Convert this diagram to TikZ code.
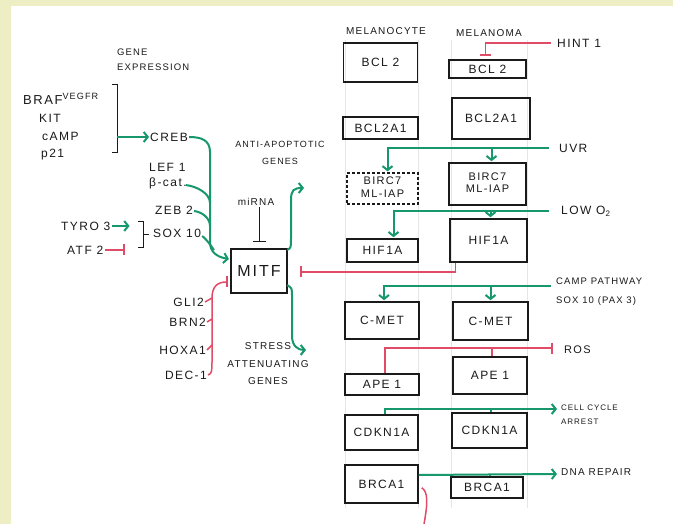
\documentclass[tikz,border=0pt]{standalone}
\usepackage{fontspec}
\setmainfont{Liberation Sans}[LetterSpace=12]
\usetikzlibrary{arrows.meta,calc}
\definecolor{bgy}{HTML}{EEEEC4}
\definecolor{grn}{HTML}{17986C}
\definecolor{rd}{HTML}{E04C68}
\definecolor{guide}{HTML}{E6E6E6}
\definecolor{ink}{HTML}{1A1A1A}
\begin{document}
\begin{tikzpicture}[x=1pt,y=-1pt,
  box/.style={draw=ink, line width=1.5pt, inner sep=0pt, font=\fontsize{12}{13}\selectfont, text=ink},
  dbox/.style={box, densely dashed, line width=1.2pt},
  lbl/.style={inner sep=1pt, font=\fontsize{12}{13}\selectfont, text=ink},
  slbl/.style={inner sep=1pt, font=\fontsize{9.5}{14}\selectfont, text=ink},
  act/.style={draw=grn, line width=2pt, -{Straight Barb[length=4pt,width=10pt,line width=2pt]}},
  gline/.style={draw=grn, line width=2pt},
  inh/.style={draw=rd, line width=1.5pt, -{Bar[width=11pt,line width=2pt]}},
  rline/.style={draw=rd, line width=1.5pt},
  bk/.style={draw=ink, line width=1pt},
  bkinh/.style={draw=ink, line width=0.9pt, -{Bar[width=13pt,line width=1.3pt]}},
]
\fill[bgy] (0,0) rectangle (673,524);
\fill[white] (11,6) rectangle (673,524);
\useasboundingbox (0,0) rectangle (673,524);

% column guides
\foreach \gx in {345,418,451,527}{\draw[guide, line width=0.5pt] (\gx,40) -- (\gx,508);}

% ---------- right columns ----------
\node[slbl, font=\fontsize{10}{11}\selectfont] (hMc) at (386,31) {MELANOCYTE};
\node[slbl, font=\fontsize{10}{11}\selectfont] (hMn) at (489,33) {MELANOMA};

\node[box, minimum width=74, minimum height=39] (mcBCL2)   at (380.5,62.5) {BCL 2};
\node[box, minimum width=75, minimum height=22] (mcBCL2A1) at (380.5,128) {BCL2A1};
\node[dbox, minimum width=71, minimum height=31, font=\fontsize{11}{12.5}\selectfont] (mcBIRC7)  at (382.5,188.5) {\begin{tabular}{@{}c@{}}BIRC7\\ML-IAP\end{tabular}};
\node[box, minimum width=71, minimum height=23] (mcHIF)    at (382.5,250.5) {HIF1A};
\node[box, minimum width=74, minimum height=37] (mcCMET)   at (382,320.5) {C-MET};
\node[box, minimum width=74, minimum height=21] (mcAPE)    at (382,384.5) {APE 1};
\node[box, minimum width=73, minimum height=35] (mcCDK)    at (381.5,432.5) {CDKN1A};
\node[box, minimum width=73, minimum height=38] (mcBRCA)   at (381.5,484) {BRCA1};

\node[box, minimum width=77, minimum height=18] (mnBCL2)   at (487.5,69) {BCL 2};
\node[box, minimum width=78, minimum height=41] (mnBCL2A1) at (491,118.5) {BCL2A1};
\node[box, minimum width=77, minimum height=42, font=\fontsize{11}{12.5}\selectfont] (mnBIRC7)  at (487.5,184) {\begin{tabular}{@{}c@{}}BIRC7\\ML-IAP\end{tabular}};
\node[box, minimum width=77, minimum height=43] (mnHIF)    at (488.5,240.5) {HIF1A};
\node[box, minimum width=75, minimum height=38] (mnCMET)   at (490.5,321) {C-MET};
\node[box, minimum width=74, minimum height=37] (mnAPE)    at (490,375.5) {APE 1};
\node[box, minimum width=75, minimum height=35] (mnCDK)    at (489.5,430.5) {CDKN1A};
\node[box, minimum width=72, minimum height=21] (mnBRCA)   at (487,487.5) {BRCA1};

% right labels
\node[lbl, anchor=west] (hint) at (556,43) {HINT 1};
\node[lbl, anchor=west] (uvr) at (558,148) {UVR};
\node[lbl, anchor=west] (lowo) at (560,211) {LOW O\textsubscript{2}};
\node[slbl, anchor=west, align=left, font=\fontsize{9.5}{19}\selectfont] (camppw) at (555,292) {CAMP PATHWAY\\SOX 10 (PAX 3)};
\node[lbl, anchor=west, font=\fontsize{11}{12}\selectfont] (ros) at (563,350) {ROS};
\node[slbl, anchor=west, align=left, font=\fontsize{8}{14}\selectfont] (cca) at (560,415) {CELL CYCLE\\ARREST};
\node[slbl, anchor=west, font=\fontsize{10}{11}\selectfont] (dna) at (560,472) {DNA REPAIR};

% ---------- left side ----------
\node[slbl, anchor=north west, align=left, font=\fontsize{9.5}{15}\selectfont] (gexp) at (116,48) {GENE\\EXPRESSION};
\node[lbl, anchor=west, font=\fontsize{13}{14}\selectfont] (braf) at (22,99) {BRAF\textsuperscript{VEGFR}};
\node[lbl, anchor=west] (kit) at (38,118) {KIT};
\node[lbl, anchor=west] (camp) at (41,136) {cAMP};
\node[lbl, anchor=west] (p21) at (40,155) {p21};
\node[lbl, anchor=west] (creb) at (149,137) {CREB};
\node[lbl, anchor=west, align=left, font=\fontsize{12}{15}\selectfont] (lef) at (148,176) {LEF 1\\β-cat.};
\node[lbl, anchor=west] (zeb) at (154,210) {ZEB 2};
\node[lbl, anchor=west] (sox) at (152,233) {SOX 10};
\node[lbl, anchor=west] (tyro) at (60,226) {TYRO 3};
\node[lbl, anchor=west] (atf) at (66,250) {ATF 2};

\node[draw=ink, line width=2.2pt, minimum width=56, minimum height=44, inner sep=0pt,
      font=\fontsize{16}{17}\selectfont, text=ink] (mitf) at (259,271) {MITF};
\node[slbl, font=\fontsize{10}{11}\selectfont] (mirna) at (256,202) {miRNA};
\node[slbl, align=center, font=\fontsize{9}{17}\selectfont] (anti) at (280,153) {ANTI-APOPTOTIC\\GENES};
\node[slbl, align=center, font=\fontsize{10}{17.5}\selectfont] (stress) at (268,364) {STRESS\\ATTENUATING\\GENES};

\node[lbl, anchor=east] (gli) at (205,302) {GLI2};
\node[lbl, anchor=east] (brn) at (207,322) {BRN2};
\node[lbl, anchor=east] (hox) at (207,350) {HOXA1};
\node[lbl, anchor=east] (dec) at (208,375) {DEC-1};

% ---------- connectors: left ----------
\coordinate (brT) at (117,85);
\coordinate (brB) at (117,153);
\draw[bk] ($(brT)+(-5,0)$) -- (brT) -- (brB) -- ($(brB)+(-5,0)$);
\draw[act] (creb.west -| brT) -- (creb.west);

\coordinate (trT) at (210,152);
\coordinate (trB) at (210,242);
\coordinate (mitfIn) at ($(mitf.west)+(-1,-12)$);
\draw[act] (creb.east) .. controls ($(creb.east)+(12,0)$) and ($(trT)+(0,-12)$) .. (trT) -- (trB)
  .. controls ($(trB)+(0,10)$) and ($(mitfIn)+(-12,-2)$) .. (mitfIn);
\draw[gline] ($(lef.south east)+(-2,-5)$) .. controls ($(lef.south east)+(8,-4)$) and (210,193) .. (210,203);
\draw[gline] ($(zeb.east)+(0,1)$) .. controls ($(zeb.east)+(8,2)$) and (210,218) .. (210,226);
\draw[gline] ($(sox.east)+(0,3)$) .. controls ($(sox.east)+(6,8)$) and (211,246) .. (214,250);

\coordinate (sbT) at (143,222);
\coordinate (sbB) at (143,248);
\draw[bk] ($(sbT)+(-5,0)$) -- (sbT) -- (sbB) -- ($(sbB)+(-5,0)$);
\draw[bk] ($(sbT)!0.5!(sbB)$) -- ++(6,0);
\draw[act] (tyro.east) -- ++(18,0);
\draw[inh] (atf.east) -- ++(20,0);

\draw[bkinh] (mitf.north |- mirna.south) -- ($(mitf.north)+(0,-6)$);

\coordinate (antiIn) at (304,188);
\draw[act] ($(mitf.north east)+(-1,2)$) .. controls (291,248) .. (291,238) -- (291,200)
  .. controls (291,190) and (294,188) .. (antiIn);
\coordinate (stressIn) at (306,350);
\draw[act] ($(mitf.south east)+(-1,-9)$) .. controls (292,288) .. (292,296) -- (292,336)
  .. controls (292,346) and (298,350) .. (stressIn);

\draw[inh] (dec.east) .. controls (212,374) and (212,370) .. (212,362) -- (212,298)
  .. controls (212,286) and (218,282) .. ($(mitf.west)+(-2,11)$);
\draw[rline] (gli.east) -- (212,298);
\draw[rline] (brn.east) -- (212,319);
\draw[rline] (hox.east) -- (212,345);

\draw[inh] ($(mnHIF.south west)+(6,0)$) |- ($(mitf.east)+(12,1)$);

% ---------- connectors: right ----------
\draw[inh] ($(hint.west)+(-5,0)$) -| ($(mnBCL2.north)+(-2,-3)$);

\draw[act] ($(uvr.west)+(-9,0)$) -| ($(mcBIRC7.north)+(5,-1)$);
\draw[act] ($(mnBIRC7.north |- uvr.west)+(4,0)$) -- ($(mnBIRC7.north)+(4,-1)$);

\draw[act] ($(lowo.west)+(-11,0)$) -| ($(mcHIF.north)+(11,-1)$);
\draw[act] ($(mnHIF.north |- lowo.west)+(2,0)$) -- ($(mnHIF.north)+(2,-1)$);

\coordinate (campIn) at (551,286);
\draw[act] (campIn) -| ($(mcCMET.north)+(2,-1)$);
\draw[act] (mnCMET.north |- campIn) -- ($(mnCMET.north)+(0,-1)$);

\draw[inh] ($(mcAPE.north)+(3,0)$) |- ($(ros.west)+(-10,-2)$);
\draw[rline] ($(mnAPE.north |- ros.west)+(2,-2)$) -- ($(mnAPE.north)+(2,0)$);

\draw[act] ($(mcCDK.north)+(3,0)$) |- ($(cca.west)+(-3,-6)$);
\draw[gline] ($(mnCDK.north |- cca.west)+(1,-6)$) -- ($(mnCDK.north)+(1,0)$);

\draw[act] ($(mcBRCA.east)+(0,-9)$) -- ($(dna.west)+(-3,2)$);
\draw[gline] ($(mnBRCA.north |- dna.west)+(3,3)$) -- ($(mnBRCA.north)+(3,0)$);

\coordinate (offBottom) at (424,524);
\draw[rline] ($(mcBRCA.south east)+(3,-16)$) .. controls (428,492) and (428,502) .. (offBottom);
\end{tikzpicture}
\end{document}
